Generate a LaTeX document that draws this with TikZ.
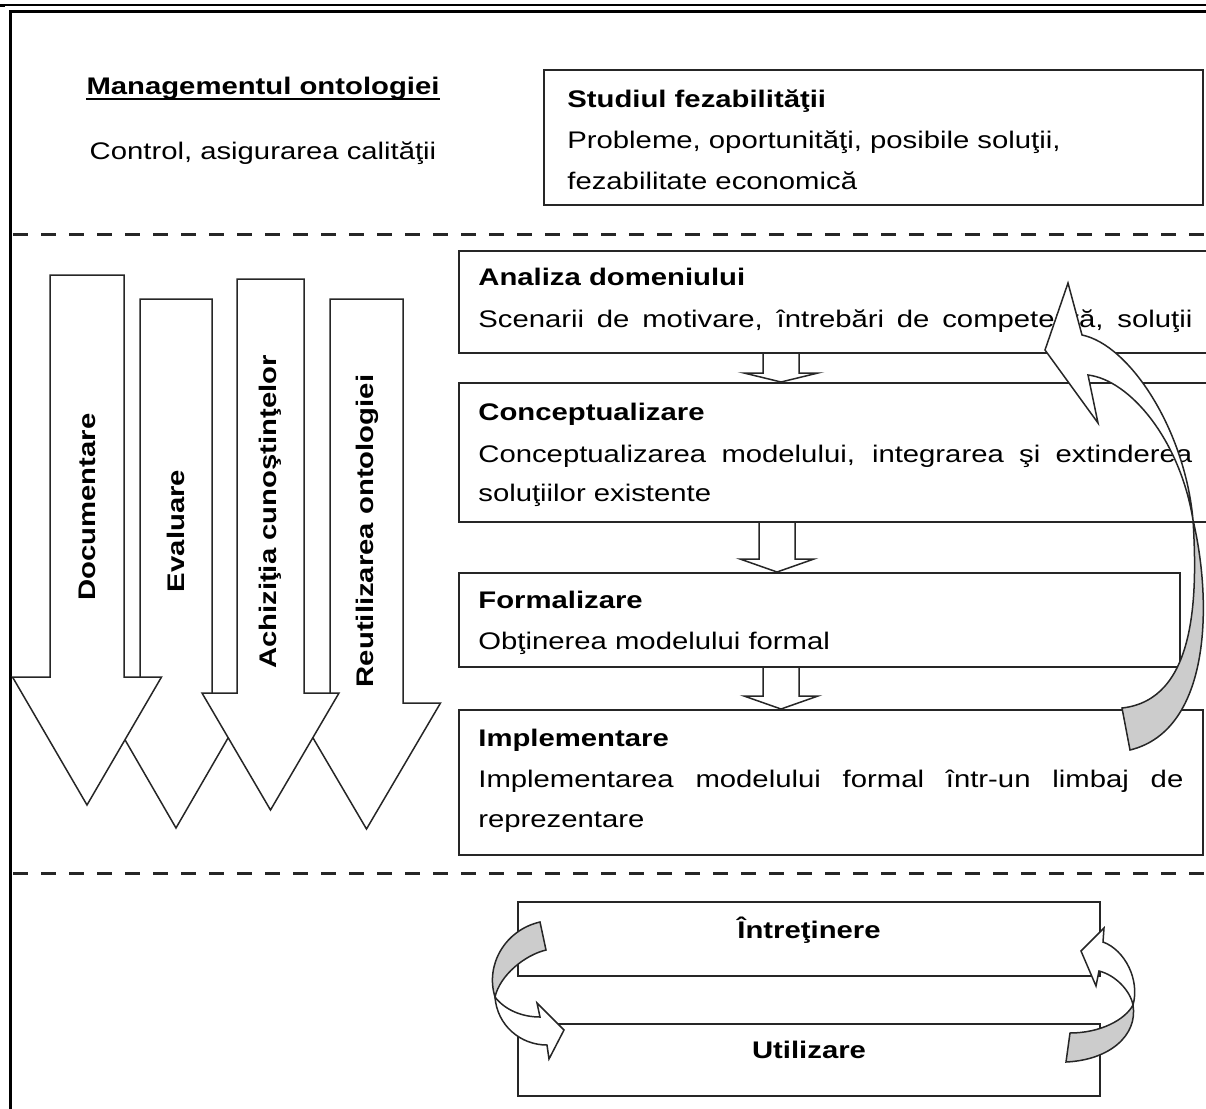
\documentclass[tikz,border=0pt]{standalone}
\usepackage{fontspec}
\setmainfont{Liberation Sans}[FakeStretch=1.22]
\usetikzlibrary{calc,fit}
\newcommand{\diagfont}{\fontsize{12pt}{20pt}\selectfont}
\tikzset{
  frameline/.style={line width=1.5pt, black},
  divider/.style={line width=1.5pt, black!85, dash pattern=on 7.5pt off 6.5pt},
  phasebox/.style={draw=black!85, line width=1pt, fill=white, inner sep=0pt},
  phasetitle/.style={anchor=base west, inner sep=0pt, font=\diagfont\bfseries},
  phasetext/.style={anchor=base west, inner sep=0pt, font=\diagfont},
  flowarrow/.style={draw=black!85, line width=0.75pt, fill=white},
  sidearrow/.style={draw=black!85, line width=0.75pt, fill=white},
  sidelabel/.style={rotate=90, inner sep=0pt, font=\diagfont\bfseries},
  backface/.style={draw=black!85, line width=0.75pt, fill=gray!40},
  frontface/.style={draw=black!85, line width=0.75pt, fill=white}
}
% downward block arrow: centre x, shaft half width, top y, head base y, head half width, tip y
\newcommand{\downblock}[6]{%
  \draw[sidearrow] ({#1-#2},#3) -- ({#1+#2},#3) -- ({#1+#2},#4) -- ({#1+#5},#4)
    -- (#1,#6) -- ({#1-#5},#4) -- ({#1-#2},#4) -- cycle;}
% short block arrow from one phase box down to the next: x, from, to, head depth
\newcommand{\flowstep}[4]{%
  \coordinate (fsx) at (#1,0);
  \coordinate (fstop) at (fsx |- #2.south);
  \coordinate (fstip) at (fsx |- #3.north);
  \draw[flowarrow] ($(fstop)+(-18,0)$) -- ($(fstip)+(-18,-#4)$) -- ($(fstip)+(-37,-#4)$)
    -- (fstip) -- ($(fstip)+(37,-#4)$) -- ($(fstip)+(18,-#4)$) -- ($(fstop)+(18,0)$);}

\begin{document}
\begin{tikzpicture}[x=0.5pt, y=-0.5pt]
  \useasboundingbox (0,0) rectangle (1206,1109);
  \clip (0,0) rectangle (1206,1109);

  % page frame
  \draw[line width=0.75pt] (0,5) -- (1206,5);
  \draw[line width=1.5pt] (0,5) -- (5,5);
  \draw[frameline] (10,1120) -- (10,11) -- (1215,11);
  \draw[divider] (13,234) -- (1206,234);
  \draw[divider] (13,873) -- (1206,873);

  % management
  \node[anchor=base, inner sep=0pt, font=\diagfont\bfseries] (mgmt) at (263,94) {Managementul ontologiei};
  \draw[line width=1pt] ($(mgmt.base west)+(0,4.5)$) -- ($(mgmt.base east)+(0,4.5)$);
  \node[anchor=base, inner sep=0pt, font=\diagfont] (mgmtnote) at (263,159) {Control, asigurarea calităţii};

  % feasibility study
  \node[phasebox, fit={(544,70) (1203,205)}] (feas) {};
  \node[phasetitle] (feasT) at (567,107) {Studiul fezabilităţii};
  \node[phasetext] (feasD1) at (567,148) {Probleme, oportunităţi, posibile soluţii,};
  \node[phasetext] (feasD2) at (567,189) {fezabilitate economică};

  % side activities
  \downblock{176}{36}{299}{700}{74}{828}
  \downblock{366.5}{36.5}{299}{703}{74}{829}
  \downblock{87}{37}{275}{677}{74.5}{805}
  \downblock{270.5}{33.5}{279}{693}{68.5}{810}
  \node[sidelabel] (docL) at (87,507) {Documentare};
  \node[sidelabel] (evalL) at (176,531) {Evaluare};
  \node[sidelabel] (achL) at (270,512) {Achiziţia cunoştinţelor};
  \node[sidelabel] (reuL) at (367,531) {Reutilizarea ontologiei};

  % development phases
  \node[phasebox, fit={(459,251) (1220,353)}] (ana) {};
  \node[phasetitle] (anaT) at (478,285) {Analiza domeniului};
  \node[phasetext] (anaD) at (478,327) {\makebox[357pt][s]{Scenarii de motivare, întrebări de competenţă, soluţii}};

  \node[phasebox, fit={(459,383) (1220,522)}] (con) {};
  \node[phasetitle] (conT) at (478,420) {Conceptualizare};
  \node[phasetext] (conD1) at (478,462) {\makebox[357pt][s]{Conceptualizarea modelului, integrarea şi extinderea}};
  \node[phasetext] (conD2) at (478,501) {soluţiilor existente};

  \node[phasebox, fit={(459,573) (1180,667)}] (for) {};
  \node[phasetitle] (forT) at (478,608) {Formalizare};
  \node[phasetext] (forD) at (478,649) {Obţinerea modelului formal};

  \node[phasebox, fit={(459,710) (1203,855)}] (imp) {};
  \node[phasetitle] (impT) at (478,746) {Implementare};
  \node[phasetext] (impD1) at (478,787) {\makebox[352.5pt][s]{Implementarea modelului formal într-un limbaj de}};
  \node[phasetext] (impD2) at (478,827) {reprezentare};

  \flowstep{781}{ana}{con}{9}
  \flowstep{777}{con}{for}{13}
  \flowstep{781}{for}{imp}{13}

  % feedback from implementation back to analysis
  \draw[backface] (1122,708) .. controls (1195,700) and (1198,600) .. (1193,520)
    .. controls (1212,600) and (1212,730) .. (1130,750) -- cycle;
  \draw[frontface] (1193,520) .. controls (1185,430) and (1130,345) .. (1082,335)
    -- (1068,283) -- (1045,350) -- (1098,423) -- (1088,375)
    .. controls (1130,380) and (1180,440) .. cycle;

  % maintenance and use
  \node[phasebox, fit={(518,902) (1100,976)}] (intr) {};
  \node[anchor=base, inner sep=0pt, font=\diagfont\bfseries] (intrT) at (809,938) {Întreţinere};
  \node[phasebox, fit={(518,1024) (1100,1096)}] (util) {};
  \node[anchor=base, inner sep=0pt, font=\diagfont\bfseries] (utilT) at (809,1058) {Utilizare};

  \draw[backface] (540,922) .. controls (505,930) and (485,965) .. (495,997)
    .. controls (500,975) and (525,955) .. (546,950) -- cycle;
  \draw[frontface] (495,997) .. controls (505,1010) and (522,1017) .. (540,1017)
    -- (537,1003) -- (564,1030) -- (549,1059) -- (547,1045)
    .. controls (520,1045) and (497,1025) .. cycle;

  \draw[backface] (1070,1033) .. controls (1100,1033) and (1125,1020) .. (1133,1005)
    .. controls (1138,1035) and (1110,1060) .. (1066,1062) -- cycle;
  \draw[frontface] (1133,1005) .. controls (1140,980) and (1125,950) .. (1103,942)
    -- (1104,928) -- (1081,951) -- (1096,986) -- (1099,971)
    .. controls (1115,975) and (1130,990) .. cycle;
\end{tikzpicture}
\end{document}
